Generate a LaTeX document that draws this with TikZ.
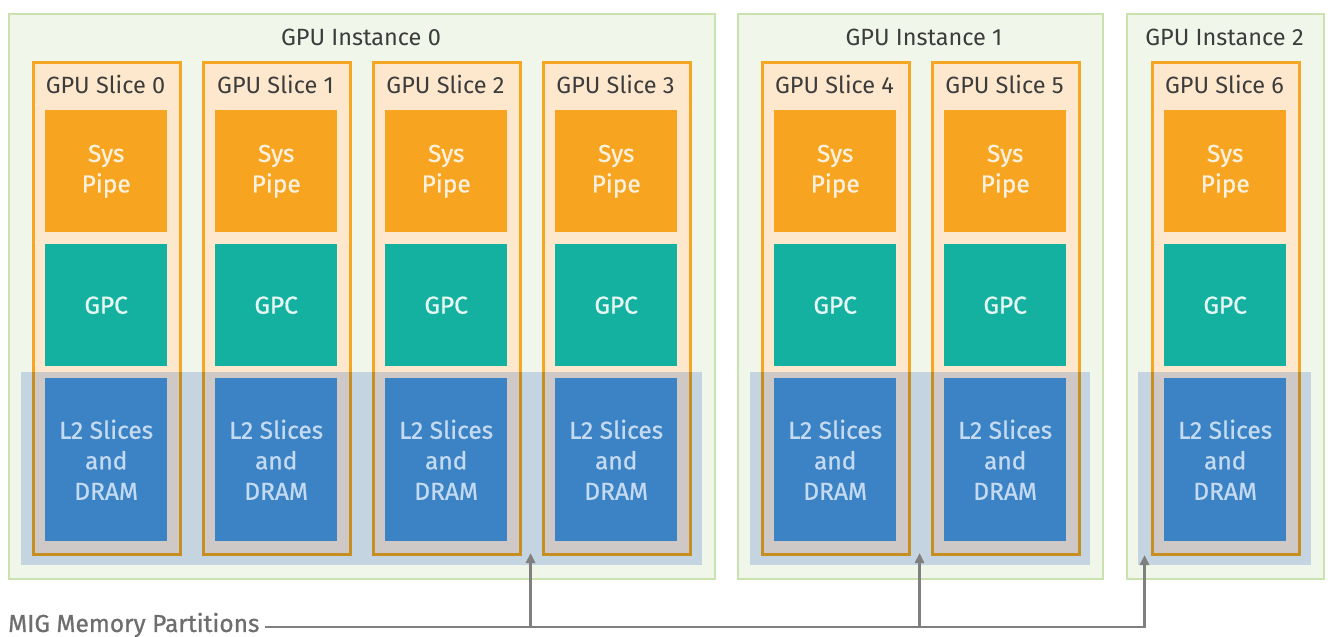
\documentclass[tikz,border=0pt]{standalone}
\usepackage{fontspec}
\setmainfont{Fira Sans}
\newfontfamily\medfont{Fira Sans}[FakeBold=0.8]
\usetikzlibrary{arrows.meta}
\definecolor{instfill}{HTML}{F1F6EA}
\definecolor{instline}{HTML}{C9E2AE}
\definecolor{slicefill}{HTML}{FDE8CE}
\definecolor{sliceline}{HTML}{F5A623}
\definecolor{sysc}{HTML}{F7A521}
\definecolor{gpcc}{HTML}{14B1A1}
\definecolor{l2c}{HTML}{3B83C5}
\definecolor{bandc}{HTML}{D0DDF6}
\definecolor{titletext}{HTML}{3C3C3C}
\definecolor{systext}{HTML}{FDF0DC}
\definecolor{gpctext}{HTML}{E6F7F3}
\definecolor{l2text}{HTML}{C4DAF0}
\definecolor{arrc}{HTML}{7F7F7F}
\definecolor{lbltext}{HTML}{6E6E6E}
\tikzset{
  instbox/.style={draw=instline, fill=instfill, line width=2pt, anchor=north west, inner sep=0pt},
  slicebox/.style={draw=sliceline, fill=slicefill, line width=2.5pt, anchor=north west, inner sep=0pt, minimum width=147pt, minimum height=492pt},
  band/.style={fill=bandc, blend mode=multiply, anchor=north west, inner sep=0pt, minimum height=193pt},
  blk/.style={anchor=north west, inner sep=0pt, minimum width=122pt, align=center, font=\medfont\fontsize{24.5}{30.5}\selectfont},
  sysblk/.style={blk, fill=sysc, text=systext, minimum height=122pt},
  gpcblk/.style={blk, fill=gpcc, text=gpctext, minimum height=122pt},
  l2blk/.style={blk, fill=l2c, text=l2text, minimum height=163pt},
  title/.style={text=titletext, font=\fontsize{23.5}{26}\selectfont, inner sep=0pt},
  arr/.style={draw=arrc, line width=2.5pt, -{Triangle[length=10pt,width=9pt]}},
  lineonly/.style={draw=arrc, line width=2.5pt}
}
\begin{document}
\begin{tikzpicture}[x=1pt,y=-1pt]
\useasboundingbox (0,0) rectangle (1328,637);
% instances
\node[instbox, minimum width=706pt, minimum height=565pt] (i0) at (8,13) {};
\node[instbox, minimum width=365pt, minimum height=565pt] (i1) at (737,13) {};
\node[instbox, minimum width=197pt, minimum height=565pt] (i2) at (1126,13) {};
\node[title] (t0) at (361,37) {GPU Instance 0};
\node[title] (t1) at (924,37) {GPU Instance 1};
\node[title] (t2) at (1224.5,37) {GPU Instance 2};
% slices
\foreach \i/\x in {0/32,1/202,2/372,3/542,4/761,5/931,6/1151}{
  \node[slicebox] (s\i) at (\x,61) {};
  \node[title] (st\i) at (\x+73.5,84) {GPU Slice \i};
  \node[sysblk] (sp\i) at (\x+13,110) {Sys\\Pipe};
  \node[gpcblk] (g\i) at (\x+13,244) {GPC};
}
% memory partition bands
\node[band, minimum width=681pt] (b0) at (21,372) {};
\node[band, minimum width=340pt] (b1) at (750,372) {};
\node[band, minimum width=173pt] (b2) at (1138,372) {};
\foreach \i/\x in {0/32,1/202,2/372,3/542,4/761,5/931,6/1151}{
  \node[l2blk] (l\i) at (\x+13,378) {L2 Slices\\and\\DRAM};
}
% label and arrows
\node[text=lbltext, font=\medfont\fontsize{24.5}{27}\selectfont, anchor=west, inner sep=0pt] (lbl) at (8,625) {MIG Memory Partitions};
\coordinate (a0) at (530.5,553);
\coordinate (a1) at (919.5,553);
\coordinate (a2) at (1144.5,555);
\coordinate (h) at (1145.7,627);
\draw[lineonly] ([xshift=5pt]lbl.east |- h) -- (h);
\draw[arr] (a0 |- h) -- (a0);
\draw[arr] (a1 |- h) -- (a1);
\draw[arr] (a2 |- h) -- (a2);
\end{tikzpicture}
\end{document}
